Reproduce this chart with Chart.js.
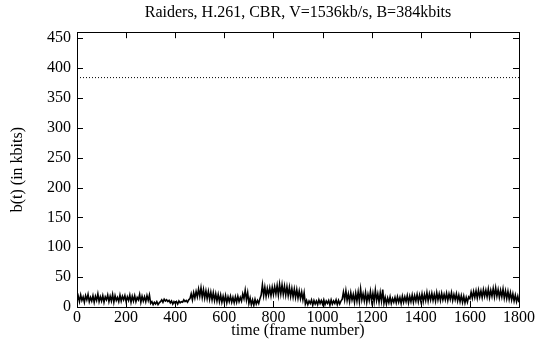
<!DOCTYPE html>
<html>
<head>
<meta charset="utf-8">
<script src="https://cdn.jsdelivr.net/npm/chart.js@4/dist/chart.umd.min.js"></script>
<style>
  html, body { margin: 0; padding: 0; background: #fff; }
  canvas { display: block; }
</style>
</head>
<body>
<canvas id="chart" width="537" height="341"></canvas>
<script>
// --- dados ---
const TITLE = 'Raiders, H.261, CBR, V=1536kb/s, B=384kbits';
const X_TICKS = [0, 200, 400, 600, 800, 1000, 1200, 1400, 1600, 1800];
const Y_TICKS = [0, 50, 100, 150, 200, 250, 300, 350, 400, 450];
const BUFFER_SIZE = 384;     // B = 384 kbits (linha pontilhada)
const FRAME_STEP = 5;        // uma amostra a cada 5 quadros

// ocupação do buffer b(t), em kbits, por blocos de 100 quadros
const occupancy = [
  10,18,9,20,11,17,8,19,12,21,9,16,10,19,8,18,11,22,9,17,
  10,19,8,17,12,20,9,18,10,21,8,19,11,16,9,20,10,18,12,19,
  9,17,11,20,8,18,10,19,9,16,12,21,8,18,10,17,9,19,11,20,
  6,9,4,8,5,9,4,7,9,12,8,13,10,12,9,11,7,10,5,9,
  6,9,5,10,7,9,8,12,9,11,8,12,14,22,12,24,15,26,17,30,
  18,32,16,29,15,27,14,26,13,25,12,24,11,22,10,21,9,20,8,18,
  8,19,7,17,9,18,8,16,7,17,8,18,9,16,10,22,14,28,12,24,
  6,15,4,12,3,13,5,11,6,14,20,37,19,33,18,31,20,32,19,33,
  21,34,22,36,20,38,22,37,21,35,20,34,19,33,18,31,17,30,16,29,
  15,27,14,25,12,24,5,11,4,10,6,12,3,11,5,10,4,12,6,11,
  5,12,4,10,6,11,3,12,5,10,6,12,4,11,5,10,13,25,12,27,
  11,22,9,24,12,21,8,23,10,25,9,30,12,22,10,24,8,21,11,26,
  10,23,9,28,11,22,8,24,10,29,6,16,5,15,7,17,6,14,8,16,
  7,17,8,16,6,18,8,17,9,19,7,18,9,20,8,19,10,21,9,20,
  10,22,9,21,11,24,10,22,12,23,11,21,10,24,12,22,11,23,12,21,
  12,23,11,22,13,24,11,21,12,22,10,20,9,19,8,18,7,16,8,17,
  14,25,15,26,16,27,15,28,17,27,16,29,18,28,17,30,16,28,18,31,
  17,32,18,29,16,28,17,30,15,27,14,26,13,24,12,22,10,20,9,18,
  8
];

const FONT = { family: "'Liberation Serif', 'DejaVu Serif', serif", size: 16 };

// moldura e marcas de escala para dentro, nos quatro lados (estilo gnuplot)
const framePlugin = {
  id: 'frame',
  afterDraw(chart) {
    const { ctx, chartArea: a, scales } = chart;
    const len = 6;
    ctx.save();
    ctx.strokeStyle = '#000';
    ctx.lineWidth = 1;
    ctx.beginPath();
    for (const v of X_TICKS) {
      const px = Math.round(scales.x.getPixelForValue(v)) + 0.5;
      ctx.moveTo(px, a.bottom); ctx.lineTo(px, a.bottom - len);
      ctx.moveTo(px, a.top); ctx.lineTo(px, a.top + len);
    }
    for (const v of Y_TICKS) {
      const py = Math.round(scales.y.getPixelForValue(v)) + 0.5;
      ctx.moveTo(a.left, py); ctx.lineTo(a.left + len, py);
      ctx.moveTo(a.right, py); ctx.lineTo(a.right - len, py);
    }
    ctx.stroke();
    ctx.strokeRect(Math.round(a.left) + 0.5, Math.round(a.top) + 0.5,
                   Math.round(a.right - a.left), Math.round(a.bottom - a.top));
    ctx.restore();
  }
};

new Chart(document.getElementById('chart'), {
  type: 'line',
  data: {
    datasets: [
      {
        data: occupancy.map((v, i) => ({ x: i * FRAME_STEP, y: v })),
        borderColor: '#000',
        borderWidth: 1.6,
        pointRadius: 0,
        tension: 0
      },
      {
        data: [{ x: X_TICKS[0], y: BUFFER_SIZE }, { x: X_TICKS[X_TICKS.length - 1], y: BUFFER_SIZE }],
        borderColor: '#000',
        borderWidth: 1,
        borderDash: [1, 2],
        pointRadius: 0
      }
    ]
  },
  options: {
    responsive: false,
    devicePixelRatio: 1,
    animation: false,
    layout: { padding: { left: 0, right: 18, top: 0, bottom: 0 } },
    plugins: {
      legend: { display: false },
      tooltip: { enabled: false },
      title: {
        display: true,
        fullSize: false,   // centraliza sobre a área do gráfico
        text: TITLE,
        color: '#000',
        font: { ...FONT, weight: 'normal' },
        padding: { top: 3, bottom: 10 }
      }
    },
    scales: {
      x: {
        type: 'linear',
        min: 0,
        max: 1800,
        afterBuildTicks: s => { s.ticks = X_TICKS.map(v => ({ value: v })); },
        afterFit: s => { s.height = 34; },
        grid: { display: false, drawTicks: false },
        border: { display: false },
        ticks: { color: '#000', font: FONT, padding: 1, maxRotation: 0, autoSkip: false, callback: v => String(v) },
        title: { display: true, text: 'time (frame number)', color: '#000', font: FONT, padding: { top: 0, bottom: 1 } }
      },
      y: {
        type: 'linear',
        min: 0,
        max: 460,
        afterBuildTicks: s => { s.ticks = Y_TICKS.map(v => ({ value: v })); },
        afterFit: s => { s.width = 77; },
        grid: { display: false, drawTicks: false },
        border: { display: false },
        ticks: { color: '#000', font: FONT, padding: 6, autoSkip: false, callback: v => String(v) },
        title: { display: true, text: 'b(t) (in kbits)', color: '#000', font: FONT, padding: { top: 8, bottom: 0 } }
      }
    }
  },
  plugins: [framePlugin]
});
</script>
</body>
</html>
